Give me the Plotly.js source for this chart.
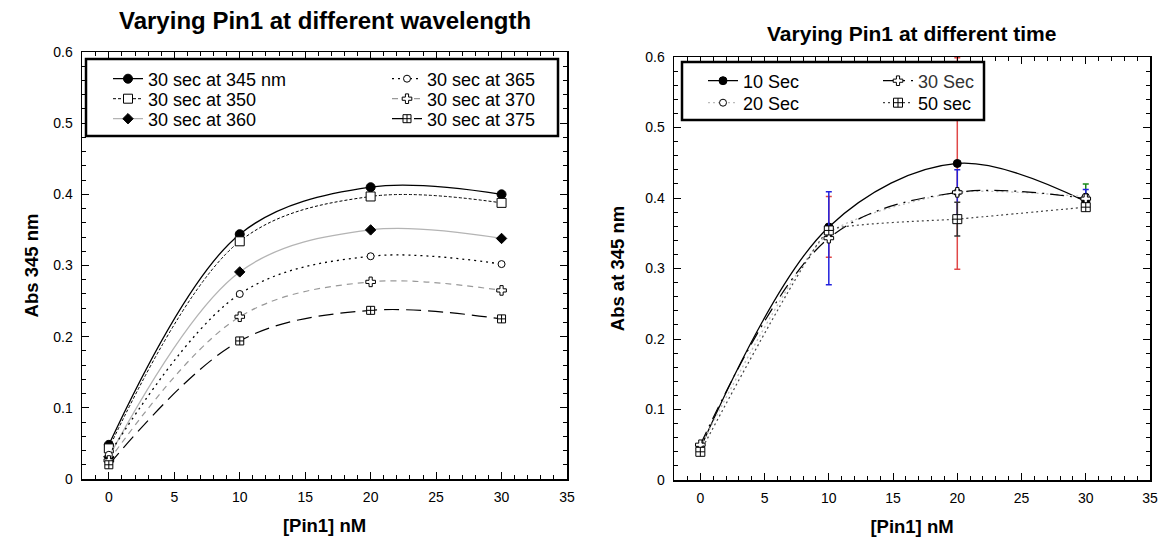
<!DOCTYPE html>
<html><head><meta charset="utf-8">
<script src="https://cdn.plot.ly/plotly-3.0.1.min.js"></script>
<style>html,body{margin:0;padding:0;background:#fff}#chart{width:1160px;height:538px}</style>
</head><body><div id="chart"></div>
<script>
// ---- data ----
const pin1 = [0, 10, 20, 30];
// left panel: varying wavelength
const wlNames = ['30 sec at 345 nm', '30 sec at 350', '30 sec at 360', '30 sec at 365', '30 sec at 370', '30 sec at 375'];
const wl345 = [0.048, 0.344, 0.410, 0.400];
const wl350 = [0.043, 0.334, 0.397, 0.388];
const wl360 = [0.031, 0.291, 0.350, 0.338];
const wl365 = [0.034, 0.260, 0.313, 0.302];
const wl370 = [0.026, 0.228, 0.277, 0.265];
const wl375 = [0.020, 0.194, 0.237, 0.225];
// right panel: varying time
const tNames = ['10 Sec', '20 Sec', '30 Sec', '50 sec'];
const t10 = [0.045, 0.359, 0.449, 0.395];
const t20 = [0.047, 0.350, 0.408, 0.402];
const t30 = [0.050, 0.343, 0.408, 0.399];
const t50 = [0.040, 0.354, 0.370, 0.387];
const t10err = [0, 0.043, 0.150, 0];
const t20err = [0, 0, 0, 0.018];
const t30err = [0, 0.066, 0.032, 0.013];
const t50err = [0, 0, 0.024, 0];
// ---- styles ----
const FONT = 'Liberation Sans, Arial, sans-serif';
function tr(name, y, xa, ya, leg, line, marker, err) {
  const t = {x: pin1, y: y, name: name, xaxis: xa, yaxis: ya, legend: leg,
    mode: 'lines+markers', line: Object.assign({shape: 'spline', smoothing: 1}, line),
    marker: marker, cliponaxis: true};
  if (err) t.error_y = err;
  return t;
}
const mk = (sym, size, fill) => ({symbol: sym, size: size, color: fill, line: {color: '#000', width: 1}});
const data = [
  tr(wlNames[0], wl345, 'x', 'y', 'legend', {color: '#000', width: 1.3, dash: 'solid'}, mk('circle', 9, '#000')),
  tr(wlNames[1], wl350, 'x', 'y', 'legend2', {color: '#000', width: 1, dash: '3px,2px'}, mk('square', 9, '#fff')),
  tr(wlNames[2], wl360, 'x', 'y', 'legend3', {color: '#b4b4b4', width: 1.3, dash: 'solid'}, mk('diamond', 8, '#000')),
  tr(wlNames[3], wl365, 'x', 'y', 'legend4', {color: '#000', width: 1.3, dash: '2px,4px'}, mk('circle', 7, '#fff')),
  tr(wlNames[4], wl370, 'x', 'y', 'legend5', {color: '#999', width: 1.2, dash: '6px,5px'}, mk('cross', 8, '#fff')),
  tr(wlNames[5], wl375, 'x', 'y', 'legend6', {color: '#000', width: 1.2, dash: '15px,7px'}, mk('square-cross', 8, '#fff')),
  tr(tNames[0], t10, 'x2', 'y2', 'legend7', {color: '#000', width: 1.3, dash: 'solid'}, mk('circle', 8, '#000'),
     {type: 'data', array: t10err, visible: true, color: '#e04848', thickness: 1.5, width: 3}),
  tr(tNames[1], t20, 'x2', 'y2', 'legend8', {color: '#bbb', width: 1.3, dash: '2px,3px', smoothing: 0.6}, mk('circle', 7, '#fff'),
     {type: 'data', array: t20err, visible: true, color: '#1a8a1a', thickness: 1.5, width: 3}),
  tr(tNames[2], t30, 'x2', 'y2', 'legend9', {color: '#000', width: 1.2, dash: '14px,6px,2px,6px'}, mk('cross', 8, '#fff'),
     {type: 'data', array: t30err, visible: true, color: '#2222dd', thickness: 1.5, width: 3}),
  tr(tNames[3], t50, 'x2', 'y2', 'legend10', {color: '#444', width: 1.2, dash: '2px,3px', smoothing: 0.3}, mk('square-cross', 9, '#fff'),
     {type: 'data', array: t50err, visible: true, color: '#333', thickness: 1.5, width: 3})
];
// draw error-bar traces first so markers sit on top
data.sort((a, b) => (b.error_y ? 1 : 0) - (a.error_y ? 1 : 0));

const W = 1160, H = 538, ML = 82, MR = 10, MT = 52, MB = 58;
const PW = W - ML - MR, PH = H - MT - MB;
const px = v => (v - ML) / PW;        // pixel x -> paper x
const py = v => (H - MB - v) / PH;    // pixel y -> paper y

function ax(extra) {
  return Object.assign({
    showline: true, linecolor: '#000', linewidth: 1.5, mirror: 'ticks',
    ticks: 'inside', ticklen: 7, tickwidth: 1, tickcolor: '#000',
    showgrid: false, zeroline: false, ticklabelstandoff: 5,
    tickfont: {family: FONT, size: 14, color: '#000'}
  }, extra);
}
const titleFont = {family: FONT, size: 18.5, color: '#000', weight: 'bold'};
const legFont = {family: FONT, size: 18, color: '#000'};
const legBase = {bgcolor: 'rgba(0,0,0,0)', borderwidth: 0, font: legFont, orientation: 'v',
  xanchor: 'left', yanchor: 'middle', tracegroupgap: 0, itemwidth: 30};
// legend entry centres (pixels)
const legPos = [[108, 79], [108, 99], [108, 119], [387, 79], [387, 99], [387, 119],
                [703, 81], [703, 103], [878, 81], [878, 103]];
const legColors = ['#000', '#000', '#000', '#000', '#000', '#000', '#000', '#000', '#333', '#000'];

const layout = {
  width: W, height: H, paper_bgcolor: '#fff', plot_bgcolor: '#fff',
  margin: {l: ML, r: MR, t: MT, b: MB, autoexpand: false},
  font: {family: FONT, color: '#000'},
  xaxis: ax({domain: [0, px(567)], range: [-2.05, 35], dtick: 5, tick0: 0, minor: {ticks: 'inside', ticklen: 4, tickcolor: '#000', dtick: 1, showgrid: false},
    anchor: 'y', title: {text: '[Pin1] nM', font: titleFont, standoff: 15}}),
  yaxis: ax({domain: [py(479), 1], range: [0, 0.6], dtick: 0.1, minor: {ticks: 'inside', ticklen: 4, tickcolor: '#000', dtick: 0.02, showgrid: false},
    anchor: 'x', title: {text: 'Abs 345 nm', font: titleFont, standoff: 10}}),
  xaxis2: ax({domain: [px(674), 1], range: [-2.05, 35], dtick: 5, tick0: 0, minor: {ticks: 'inside', ticklen: 4, tickcolor: '#000', dtick: 1, showgrid: false},
    anchor: 'y2', title: {text: '[Pin1] nM', font: titleFont, standoff: 15}}),
  yaxis2: ax({domain: [0, py(57)], range: [0, 0.6], dtick: 0.1, minor: {ticks: 'inside', ticklen: 4, tickcolor: '#000', dtick: 0.02, showgrid: false},
    anchor: 'x2', title: {text: 'Abs at 345 nm', font: titleFont, standoff: 16}}),
  showlegend: true,
  shapes: [
    {type: 'rect', xref: 'paper', yref: 'paper', x0: px(86), x1: px(558), y0: py(136), y1: py(59),
      line: {color: '#000', width: 2.5}, fillcolor: '#fff', layer: 'above'},
    {type: 'rect', xref: 'paper', yref: 'paper', x0: px(682), x1: px(984), y0: py(120), y1: py(62),
      line: {color: '#000', width: 2.5}, fillcolor: '#fff', layer: 'above'}
  ],
  annotations: [
    {text: 'Varying Pin1 at different wavelength', xref: 'paper', yref: 'paper', x: px(325), y: py(20),
      xanchor: 'center', yanchor: 'middle', showarrow: false, font: {family: FONT, size: 24, weight: 'bold', color: '#000'}},
    {text: 'Varying Pin1 at different time', xref: 'paper', yref: 'paper', x: px(911), y: py(33),
      xanchor: 'center', yanchor: 'middle', showarrow: false, font: {family: FONT, size: 21, weight: 'bold', color: '#000'}}
  ]
};
legPos.forEach((p, i) => {
  const key = i === 0 ? 'legend' : 'legend' + (i + 1);
  layout[key] = Object.assign({}, legBase, {x: px(p[0]), y: py(p[1]),
    font: Object.assign({}, legFont, {color: legColors[i]})});
});
Plotly.newPlot('chart', data, layout, {displayModeBar: false, staticPlot: true});
</script></body></html>
